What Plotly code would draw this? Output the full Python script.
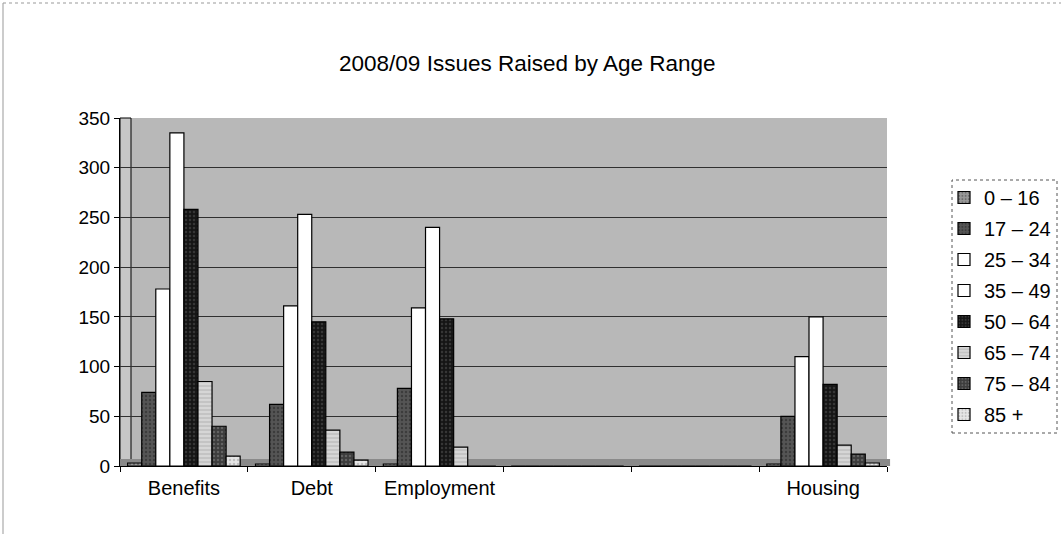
import plotly.graph_objects as go

categories = ["Benefits", "Debt", "Employment", " ", "  ", "Housing"]
age_ranges = ["0 \u2013 16", "17 \u2013 24", "25 \u2013 34", "35 \u2013 49",
              "50 \u2013 64", "65 \u2013 74", "75 \u2013 84", "85 +"]

v_0_16 = [3, 2, 2, 0, 0, 2]
v_17_24 = [74, 62, 78, 0, 0, 50]
v_25_34 = [178, 161, 159, 0, 0, 110]
v_35_49 = [335, 253, 240, 0, 0, 150]
v_50_64 = [258, 145, 148, 0, 0, 82]
v_65_74 = [85, 36, 19, 0, 0, 21]
v_75_84 = [40, 14, 0, 0, 0, 12]
v_85_plus = [10, 6, 0, 0, 0, 3]

series = [v_0_16, v_17_24, v_25_34, v_35_49, v_50_64, v_65_74, v_75_84, v_85_plus]
fills = ["#9a9a9a", "#555555", "#ffffff", "#ffffff", "#151515", "#c4c4c4", "#3c3c3c", "#e6e6e6"]
patterns = [".", ".", "", "", ".", "-", ".", "."]
pat_fg = ["#444444", "#222222", "#000000", "#000000", "#555555", "#ffffff", "#888888", "#999999"]

PW = 767.0   # plot width in px
PH = 348.0   # plot height in px

def px_x(p):
    return (p - 120) / PW

def px_y(p):
    return (466 - p) / PH

fig = go.Figure()
for i, (name, vals, col, pat, fg) in enumerate(zip(age_ranges, series, fills, patterns, pat_fg)):
    fig.add_trace(go.Bar(
        name=name, x=categories, y=vals, legendgroup="g%d" % i,
        marker=dict(color=col, line=dict(color="#000000", width=1.2),
                    pattern=dict(shape=pat, fgcolor=fg, size=4, solidity=0.3)),
    ))

# side wall, floor strip, legend frame and outer frame
fig.add_shape(type="rect", xref="paper", yref="paper", x0=0, x1=px_x(131), y0=0, y1=1,
              fillcolor="#c6c6c6", line=dict(color="#000000", width=1), layer="between")
fig.add_shape(type="rect", xref="paper", yref="paper", x0=0, x1=1.004, y0=0, y1=px_y(459),
              fillcolor="#8a8a8a", line=dict(width=0), layer="between")
fig.add_shape(type="rect", xref="paper", yref="paper", x0=px_x(952), x1=px_x(1057),
              y0=px_y(433), y1=px_y(180),
              line=dict(color="#555555", width=1, dash="dot"), fillcolor="rgba(0,0,0,0)")
fig.add_shape(type="line", xref="paper", yref="paper", x0=px_x(3), x1=px_x(1061), y0=px_y(3), y1=px_y(3),
              line=dict(color="#999999", width=1, dash="dot"))
fig.add_shape(type="line", xref="paper", yref="paper", x0=px_x(3), x1=px_x(3), y0=px_y(534), y1=px_y(3),
              line=dict(color="#999999", width=1))

fig.update_layout(
    width=1061, height=534,
    margin=dict(l=120, r=174, t=118, b=68, autoexpand=False),
    paper_bgcolor="#ffffff",
    plot_bgcolor="#b8b8b8",
    font=dict(family="Liberation Sans, Arial, sans-serif", size=19, color="#000000"),
    title=dict(text="2008/09 Issues Raised by Age Range", x=0.497, xanchor="center",
               y=1 - 63 / 534, yanchor="middle", font=dict(size=22.5)),
    barmode="group", bargap=0.12, bargroupgap=0.0,
    showlegend=True,
    legend=dict(x=px_x(944), xanchor="left", y=px_y(178), yanchor="top",
                borderwidth=0, bgcolor="rgba(0,0,0,0)",
                font=dict(size=20), traceorder="grouped", tracegroupgap=2, itemwidth=30),
    xaxis=dict(type="category", tickson="boundaries", ticks="outside", ticklen=5,
               tickcolor="#000000", showline=True, linecolor="#000000", linewidth=1,
               showgrid=False, tickfont=dict(size=20), ticklabelstandoff=4),
    yaxis=dict(range=[0, 350], tickvals=[0, 50, 100, 150, 200, 250, 300, 350],
               ticks="outside", ticklen=5, tickcolor="#000000",
               showline=True, linecolor="#000000", linewidth=1,
               showgrid=True, gridcolor="#303030", gridwidth=1,
               zeroline=False, tickfont=dict(size=19)),
)

fig.write_html("out.html", config={"displayModeBar": False},
               post_script="document.body.style.margin='0';")
